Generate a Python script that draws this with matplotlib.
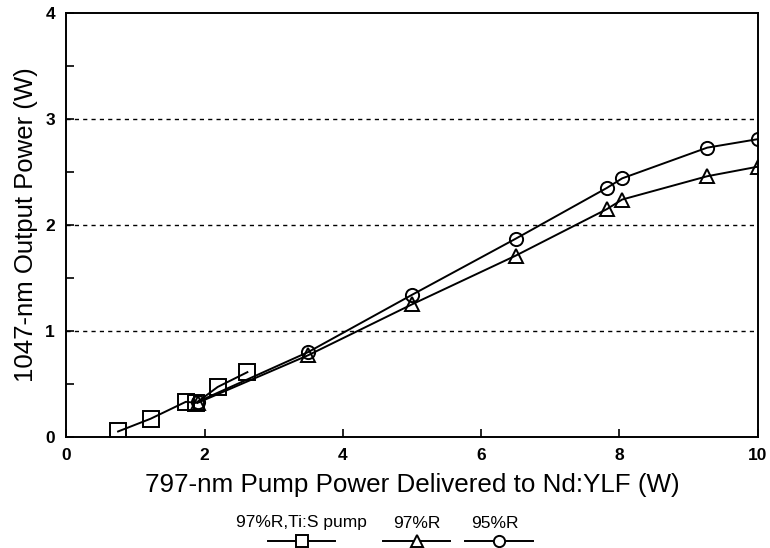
import matplotlib
matplotlib.use("Agg")
import matplotlib.pyplot as plt
from matplotlib.lines import Line2D

plt.rcParams['font.family'] = ['Liberation Sans', 'DejaVu Sans']

# 97%R, Ti:S pump
tis_x = [0.75, 1.22, 1.73, 1.88, 2.19, 2.62]
tis_y = [0.05, 0.17, 0.33, 0.32, 0.47, 0.61]

# 97%R
r97_x = [1.9, 3.5, 5.0, 6.5, 7.82, 8.04, 9.27, 10.0]
r97_y = [0.32, 0.77, 1.25, 1.71, 2.15, 2.24, 2.46, 2.55]

# 95%R
r95_x = [1.9, 3.5, 5.0, 6.5, 7.82, 8.04, 9.27, 10.0]
r95_y = [0.33, 0.80, 1.34, 1.87, 2.35, 2.44, 2.73, 2.81]

series = [
    ('97%R,Ti:S pump', tis_x, tis_y, 's', 11),
    ('97%R', r97_x, r97_y, '^', 10),
    ('95%R', r95_x, r95_y, 'o', 9.5),
]

fig = plt.figure(figsize=(7.7, 5.48), dpi=100)
ax = fig.add_axes([0.086, 0.203, 0.898, 0.773])

for label, xs, ys, mk, ms in series:
    ax.plot(xs, ys, '-', color='black', lw=1.4, marker=mk, ms=ms,
            mfc='none', mec='black', mew=1.4)

for yv in [1, 2, 3]:
    ax.axhline(yv, color='black', ls=(0, (3, 3)), lw=1.0, zorder=0)

ax.set_xlim(0, 10)
ax.set_ylim(0, 4)
ax.set_xticks([0, 2, 4, 6, 8, 10])
ax.set_yticks([0, 1, 2, 3, 4])
ax.set_yticks([0.5, 1.5, 2.5, 3.5], minor=True)
ax.tick_params(direction='in', length=6, width=1.2, labelsize=12.5, pad=8)
ax.tick_params(which='minor', direction='in', length=6, width=1.2)
for t in ax.get_xticklabels() + ax.get_yticklabels():
    t.set_fontweight('bold')
for sp in ax.spines.values():
    sp.set_linewidth(1.4)

ax.set_xlabel('797-nm Pump Power Delivered to Nd:YLF (W)', fontsize=18.7, labelpad=7)
ax.set_ylabel('1047-nm Output Power (W)', fontsize=18.5, labelpad=5)

# legend with label above line sample, placed below the axes
entries = [(301, 268, 335), (417, 383, 450), (495, 465, 533)]
W, H = 770, 548
for (label, xs, ys, mk, ms), (tx, x0, x1) in zip(series, entries):
    fig.text(tx / W, 1 - 523 / H, label, ha='center', va='center', fontsize=12.5)
    fig.add_artist(Line2D([x0 / W, x1 / W], [1 - 541 / H, 1 - 541 / H],
                          transform=fig.transFigure, color='black', lw=1.4))
    fig.add_artist(Line2D([(x0 + x1) / 2 / W], [1 - 541 / H],
                          transform=fig.transFigure, marker=mk, ms=ms * 0.85,
                          mfc='white', mec='black', mew=1.4, ls='none'))

fig.savefig('out.png', dpi=100)
